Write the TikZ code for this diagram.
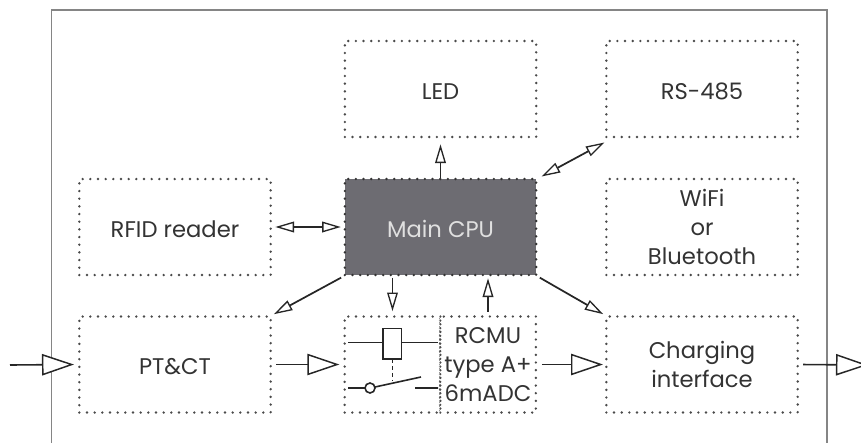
\documentclass[tikz,border=0pt]{standalone}
\usepackage{fontspec}
\setmainfont{Poppins}
\usetikzlibrary{arrows.meta}
\definecolor{txt}{HTML}{333333}
\definecolor{cpu}{HTML}{6D6C72}
\definecolor{dots}{HTML}{4A4A4A}
\definecolor{framec}{HTML}{858585}
\tikzset{
  x=0.75pt,y=-0.75pt,
  blockbox/.style={rectangle,draw=dots,line width=2pt,line cap=round,dash pattern=on 0pt off 5.75pt,
    minimum width=143.5pt,minimum height=72pt,inner sep=0pt,align=center,text=txt,font=\fontsize{17}{21.5}\selectfont,
    execute at begin node={\rule{0pt}{15.5pt}}},
  halfbox/.style={blockbox,minimum width=71.75pt},
  cpubox/.style={blockbox,fill=cpu,draw=black!80,text=white!88!black},
  tiny/.style={-{Triangle[open,fill=white,length=14pt,width=8pt,line width=1pt]},line width=1.3pt,draw=black!85},
  tinyboth/.style={{Triangle[open,fill=white,length=14pt,width=8pt,line width=1pt]}-{Triangle[open,fill=white,length=14pt,width=8pt,line width=1pt]},line width=1.3pt,draw=black!85},
  power/.style={-{Triangle[open,fill=white,length=24pt,width=16pt,line width=1.1pt]},line width=1.2pt,draw=black!85},
  sym/.style={line width=1.2pt,draw=black!85},
}
\begin{document}
\begin{tikzpicture}
\useasboundingbox (0,0) rectangle (861,443);
\draw[framec,line width=1pt] (51.5,443) -- (51.5,10) -- (827,10) -- (827,443);
\node[blockbox] (led) at (440.5,89) {LED};
\node[blockbox] (rs) at (702,89) {RS-485};
\node[blockbox] (rfid) at (175,227) {RFID reader};
\node[cpubox] (main) at (440.5,227) {Main CPU};
\node[blockbox] (wifi) at (702,227) {WiFi\\or\\Bluetooth};
\node[blockbox] (pt) at (175,364.5) {PT\&CT};
\node[halfbox] (relay) at (392.5,364.5) {};
\node[halfbox] (rcmu) at (488,364.5) {RCMU\\type A+\\6mADC};
\node[blockbox] (chg) at (702,364.5) {Charging\\interface};
\coordinate (in) at (10,365);
\coordinate (out) at (868,365);
\coordinate (rsend) at (604.5,142.5);
\coordinate (cpucorner) at (541.5,176.5);
% arrows
\draw[power] (in) -- ([xshift=-3pt]pt.west);
\draw[power,shorten <=3pt,shorten >=3pt] (pt.east) -- (relay.west);
\draw[power,shorten <=3.5pt,shorten >=1.5pt] (rcmu.east) -- (chg.west);
\draw[power,shorten <=3pt] (chg.east) -- (out);
\draw[tiny,shorten >=4.5pt] (main.north) -- (led.south);
\draw[tinyboth] (cpucorner) -- (rsend);
\draw[tinyboth,shorten <=2.5pt,shorten >=2pt] (rfid.east) -- (main.west);
\draw[tiny,shorten <=2pt,shorten >=1.5pt] (main.south west) -- (pt.north east);
\draw[tiny,shorten <=1pt,shorten >=3pt] (main.south -| relay.north) -- (relay.north);
\draw[tiny,shorten <=2.5pt,shorten >=1.5pt] (rcmu.north) -- (main.south -| rcmu.north);
\draw[tiny,shorten <=2pt,shorten >=1.5pt] (main.south east) -- (chg.north west);
% relay symbol
\draw[sym] (348,342.5) -- (383,342.5) (402,342.5) -- (438,342.5);
\draw[sym] (383,328.5) rectangle (401.5,359);
\draw[sym,dashed,dash pattern=on 3pt off 2.2pt] (392.5,359) -- (392.5,381);
\draw[sym] (348,388) -- (365,388) (375,387) -- (421,377) (415,388) -- (438,388);
\draw[sym] (370,388) circle (5);
\draw[black!40,line width=.5pt,densely dotted] (439.5,316) -- (439.5,414);
\end{tikzpicture}
\end{document}
